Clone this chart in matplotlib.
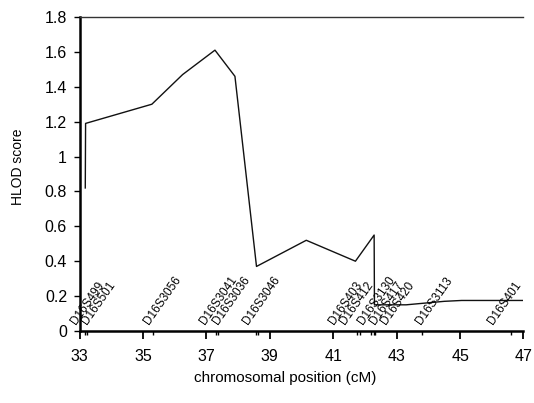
import matplotlib
matplotlib.use("Agg")
import matplotlib.pyplot as plt

plt.rcParams['font.family'] = ['Liberation Sans', 'DejaVu Sans']

# HLOD curve
position_cm = [33.18, 33.19, 35.28, 36.25, 37.27, 37.90, 38.58, 40.15, 41.70,
               42.29, 42.30, 43.30, 44.50, 45.05, 47.00]
hlod = [0.82, 1.19, 1.30, 1.47, 1.61, 1.46, 0.37, 0.52, 0.40,
        0.55, 0.15, 0.15, 0.17, 0.175, 0.175]

# marker tick positions along the x axis
marker_ticks = [33.17, 33.24, 35.33, 37.30, 37.37, 38.55, 38.62, 41.75, 41.83,
                42.20, 42.27, 42.33, 43.80, 46.60]

# marker names and where their labels sit
marker_names = ["D16S499", "D16S501", "D16S3056", "D16S3041", "D16S3036",
                "D16S3046", "D16S403", "D16S412", "D16S3130", "D16S417",
                "D16S420", "D16S3113", "D16S401"]
label_cm = [32.97, 33.31, 35.26, 37.04, 37.44, 38.40, 41.09, 41.46, 42.02,
            42.38, 42.75, 43.85, 46.11]

x_ticks = [33, 35, 37, 39, 41, 43, 45, 47]
y_ticks = [0, 0.2, 0.4, 0.6, 0.8, 1.0, 1.2, 1.4, 1.6, 1.8]
y_tick_labels = ["0", "0.2", "0.4", "0.6", "0.8", "1", "1.2", "1.4", "1.6", "1.8"]


def main():
    fig = plt.figure(figsize=(5.34, 4.03), dpi=100)
    ax = fig.add_axes([0.149, 0.1787, 0.8313, 0.7791])

    ax.plot(position_cm, hlod, color="#111111", linewidth=1.0)

    for name, x in zip(marker_names, label_cm):
        ax.text(x, 0.025, name, rotation=55, rotation_mode="anchor",
                ha="left", va="bottom", fontsize=8.5)

    ax.set_xlim(33, 47)
    ax.set_ylim(0, 1.8)
    ax.set_xticks(x_ticks)
    ax.set_xticks(marker_ticks, minor=True)
    ax.set_yticks(y_ticks)
    ax.set_yticklabels(y_tick_labels)

    ax.tick_params(axis="x", which="major", direction="out", length=6,
                   width=1.3, pad=7, labelsize=11.5)
    ax.tick_params(axis="x", which="minor", direction="out", length=3,
                   width=1.0)
    ax.tick_params(axis="y", direction="out", length=4, width=1.0, pad=5,
                   labelsize=11.5)

    ax.spines["right"].set_visible(False)
    ax.spines["left"].set_linewidth(1.8)
    ax.spines["bottom"].set_linewidth(1.8)
    ax.spines["top"].set_linewidth(1.0)
    ax.spines["top"].set_color("#333333")

    fig.text(0.034, 0.585, "HLOD score", rotation=90, ha="center",
             va="center", fontsize=10)
    fig.text(0.534, 0.062, "chromosomal position (cM)", ha="center",
             va="center", fontsize=11)

    fig.savefig("out.png", dpi=100)


if __name__ == "__main__":
    main()
